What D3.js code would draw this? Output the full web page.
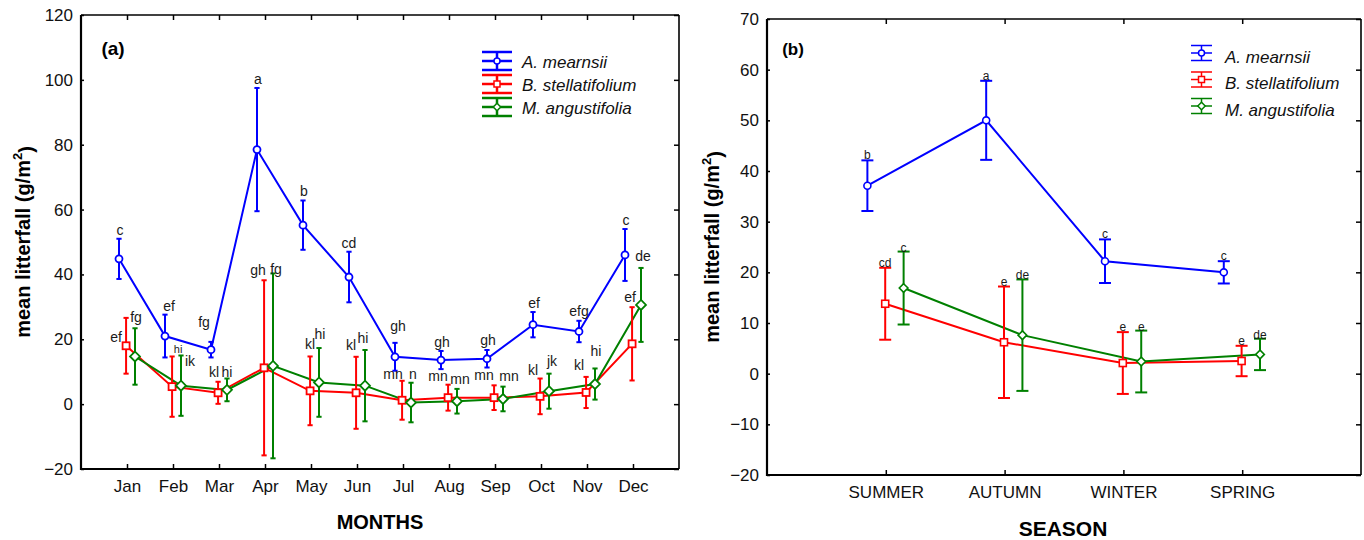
<!DOCTYPE html>
<html><head><meta charset="utf-8">
<script src="https://cdn.jsdelivr.net/npm/d3@7"></script>
<style>
body{margin:0;background:#fff}
svg{display:block}
text{font-family:Arial,"Liberation Sans",sans-serif}
</style>
</head><body>
<svg id="chart" width="1364" height="540"></svg>
<script>
// ---------- DATA ----------
const months = ["Jan","Feb","Mar","Apr","May","Jun","Jul","Aug","Sep","Oct","Nov","Dec"];
const seriesNames = ["A. mearnsii","B. stellatifolium","M. angustifolia"];
const monthYTicks = [-20,0,20,40,60,80,100,120];
const seasonYTicks = [-20,-10,0,10,20,30,40,50,60,70];

// monthly means and error half-widths
const mearnsiiMonth    = [44.8, 21.0, 16.8, 78.5, 55.2, 39.2, 14.6, 13.6, 14.0, 24.5, 22.4, 46.0];
const mearnsiiMonthErr = [ 6.2,  6.6,  2.4, 19.0,  7.6,  7.8,  4.3,  2.8,  2.7,  3.9,  3.3,  8.0];
const stellMonth       = [18.0,  5.4,  3.5, 11.2,  4.1,  3.5,  1.2,  2.0,  2.0,  2.4,  3.6, 18.6];
const stellMonthErr    = [ 8.6,  9.3,  3.4, 27.0, 10.6, 11.1,  6.0,  4.0,  3.8,  5.5,  4.8, 11.3];
const angusMonth       = [14.7,  5.7,  4.4, 11.8,  6.7,  5.7,  0.5,  0.9,  1.6,  4.0,  6.2, 30.6];
const angusMonthErr    = [ 8.7,  9.3,  3.5, 28.5, 10.6, 11.0,  6.1,  3.8,  3.8,  5.4,  4.8, 11.4];

const mearnsiiMonthLet = ["c","ef","fg","a","b","cd","gh","gh","gh","ef","efg","c"];
const stellMonthLet    = ["ef","hi","kl","gh","kl","kl","mn","mn","mn","kl","kl","ef"];
const angusMonthLet    = ["fg","ik","hi","fg","hi","hi","n","mn","mn","jk","hi","de"];

const seasons = ["SUMMER","AUTUMN","WINTER","SPRING"];
const mearnsiiSeason    = [37.1, 50.0, 22.2, 20.0];
const mearnsiiSeasonErr = [ 5.0,  7.8,  4.3,  2.2];
const stellSeason       = [13.8,  6.2,  2.1,  2.5];
const stellSeasonErr    = [ 7.1, 11.0,  6.1,  3.0];
const angusSeason       = [16.9,  7.6,  2.4,  3.8];
const angusSeasonErr    = [ 7.2, 11.0,  6.1,  3.1];

const mearnsiiSeasonLet = ["b","a","c","c"];
const stellSeasonLet    = ["cd","e","e","e"];
const angusSeasonLet    = ["c","de","e","de"];

// ---------- LAYOUT (label nudges in px, relative to top of error bar) ----------
const mearnsiiMonthNudge = [[1,-9],[4,-9],[-7,-20],[1,-9],[1,-9],[0,-9],[3,-17],[1,-9],[1,-10],[1,-9],[0,-10],[1,-9]];
const stellMonthNudge    = [[-10,19],[6,-7],[-4,-10],[-6,-10],[0,-12],[-5,-12],[-9,-7],[-10,-9],[-10,-10],[-7,-9],[-7,-12],[-2,-10]];
const angusMonthNudge    = [[1,-11],[9,5],[0,-7],[3,-4],[1,-14],[-2,-12],[2,-9],[3,-10],[6,-11],[3,-13],[1,-17],[2,-12]];
const seasonNudge = [[0,-5],[0,-5],[0,-4]];

const colors = ["#0000ff","#ff0000","#008000"];
const markers = ["circle","square","diamond"];

const svg = d3.select("#chart");

function drawMarker(g, type, cx, cy, s, color, sw){
  if(type==="circle"){
    g.append("circle").attr("cx",cx).attr("cy",cy).attr("r",s*0.5)
      .attr("fill","#fff").attr("stroke",color).attr("stroke-width",sw);
  } else if(type==="square"){
    g.append("rect").attr("x",cx-s/2).attr("y",cy-s/2).attr("width",s).attr("height",s)
      .attr("fill","#fff").attr("stroke",color).attr("stroke-width",sw);
  } else {
    const h=s*0.62;
    g.append("path").attr("d",`M${cx},${cy-h}L${cx+h},${cy}L${cx},${cy+h}L${cx-h},${cy}Z`)
      .attr("fill","#fff").attr("stroke",color).attr("stroke-width",sw);
  }
}

function drawPanel(p){
  const n = p.cats.length;
  const x = d3.scaleLinear().domain([0,n+1]).range([p.left,p.right]);
  const y = d3.scaleLinear().domain(p.yDomain).range([p.bottom,p.top]);
  const g = svg.append("g");
  const idx = d3.range(1,n+1);

  // axes
  const styleAxis = sel => {
    sel.select(".domain").remove();
    sel.selectAll(".tick line").attr("stroke","#000").attr("stroke-width",1.5);
    sel.selectAll(".tick text").attr("fill","#111").style("font-size",p.tickFont+"px");
  };
  g.append("g").attr("transform",`translate(${p.left},0)`)
    .call(d3.axisLeft(y).tickValues(p.yTicks).tickSize(-3).tickPadding(p.yPad)).call(styleAxis);
  g.append("g").attr("transform",`translate(${p.right},0)`)
    .call(d3.axisRight(y).tickValues(p.yTicks).tickSize(-5).tickFormat("")).call(styleAxis);
  g.append("g").attr("transform",`translate(0,${p.bottom})`)
    .call(d3.axisBottom(x).tickValues(idx).tickSize(-5).tickPadding(p.xPad).tickFormat(i=>p.cats[i-1])).call(styleAxis);
  g.append("g").attr("transform",`translate(0,${p.top})`)
    .call(d3.axisTop(x).tickValues(idx).tickSize(-5).tickFormat("")).call(styleAxis);

  // frame
  g.append("line").attr("x1",p.left).attr("x2",p.right).attr("y1",p.top).attr("y2",p.top).attr("stroke","#000").attr("stroke-width",1.6);
  g.append("line").attr("x1",p.right).attr("x2",p.right).attr("y1",p.top).attr("y2",p.bottom).attr("stroke","#000").attr("stroke-width",1.6);
  g.append("line").attr("x1",p.left).attr("x2",p.right).attr("y1",p.bottom).attr("y2",p.bottom).attr("stroke","#000").attr("stroke-width",2.2);
  g.append("line").attr("x1",p.left).attr("x2",p.left).attr("y1",p.top).attr("y2",p.bottom+1).attr("stroke","#000").attr("stroke-width",2.2);

  // series
  p.series.forEach((s,k)=>{
    const off = p.offsets[k];
    const col = colors[k];
    const line = d3.line().x((d,i)=>x(i+1+off)).y(d=>y(d));
    g.append("path").datum(s.mean).attr("d",line).attr("fill","none").attr("stroke",col).attr("stroke-width",p.lineW);
  });
  p.series.forEach((s,k)=>{
    const off = p.offsets[k];
    const col = colors[k];
    s.mean.forEach((m,i)=>{
      const cx = x(i+1+off), yt = y(m+s.err[i]), yb = y(m-s.err[i]);
      g.append("line").attr("x1",cx).attr("x2",cx).attr("y1",yt).attr("y2",yb).attr("stroke",col).attr("stroke-width",p.barW);
      [yt,yb].forEach(yy=>g.append("line").attr("x1",cx-p.cap).attr("x2",cx+p.cap).attr("y1",yy).attr("y2",yy).attr("stroke",col).attr("stroke-width",p.barW));
    });
  });
  p.series.forEach((s,k)=>{
    const off = p.offsets[k];
    s.mean.forEach((m,i)=>drawMarker(g,markers[k],x(i+1+off),y(m),p.mk[k],colors[k],p.mkW));
  });
  // letters
  p.series.forEach((s,k)=>{
    const off = p.offsets[k];
    s.mean.forEach((m,i)=>{
      const nd = s.nudge[i];
      g.append("text").attr("x",x(i+1+off)+nd[0]).attr("y",y(m+s.err[i])+nd[1])
        .attr("text-anchor","middle").attr("dominant-baseline","central")
        .attr("fill","#1a1a1a").style("font-size",((s.letterSize&&s.letterSize[i])||p.letFont)+"px")
        .text(s.letters[i]);
    });
  });

  // legend
  seriesNames.forEach((name,k)=>{
    const cy = p.legY + k*p.legGap, col = colors[k];
    const lg = g.append("g");
    [cy-p.legCap, cy, cy+p.legCap].forEach(yy=>lg.append("line").attr("x1",p.legX0).attr("x2",p.legX1).attr("y1",yy).attr("y2",yy).attr("stroke",col).attr("stroke-width",p.legW));
    const mx=(p.legX0+p.legX1)/2;
    lg.append("line").attr("x1",mx).attr("x2",mx).attr("y1",cy-p.legCap).attr("y2",cy+p.legCap).attr("stroke",col).attr("stroke-width",p.legW);
    drawMarker(lg,markers[k],mx,cy,p.legMk,col,1.5);
    lg.append("text").attr("x",p.legText).attr("y",cy+p.legTextDy).attr("dominant-baseline","central")
      .style("font-size",p.legFont+"px").style("font-style","italic").attr("fill","#111").text(name);
  });

  // tag
  g.append("text").attr("x",p.tagX).attr("y",p.tagY).attr("text-anchor","middle").attr("dominant-baseline","central")
    .style("font-size",p.tagFont+"px").style("font-weight","bold").text(p.tag);

  // titles
  g.append("text").attr("x",(p.left+p.right)/2+p.xTitleDx).attr("y",p.xTitleY).attr("text-anchor","middle").attr("dominant-baseline","central")
    .style("font-size",p.xTitleFont+"px").style("font-weight","bold").text(p.xTitle);
  const yt = g.append("text").attr("transform",`translate(${p.yTitleX},${(p.top+p.bottom)/2}) rotate(-90)`)
    .attr("text-anchor","middle").attr("dominant-baseline","central")
    .style("font-size",p.titleFont+"px").style("font-weight","bold");
  yt.append("tspan").text("mean litterfall (g/m");
  yt.append("tspan").attr("dy","-0.45em").style("font-size",(p.titleFont*0.65)+"px").text("2");
  yt.append("tspan").attr("dy","0.45em").text(")");
}

drawPanel({
  cats: months, left:81, right:679, top:15, bottom:469, yDomain:[-20,120], yTicks: monthYTicks,
  offsets:[-0.174,-0.02,0.174], cap:2.6, lineW:2, barW:2, mk:[7,7,8], mkW:1.8,
  tickFont:17, yPad:8, xPad:11, letFont:14,
  series:[
    {mean:mearnsiiMonth, err:mearnsiiMonthErr, letters:mearnsiiMonthLet, nudge:mearnsiiMonthNudge},
    {mean:stellMonth, err:stellMonthErr, letters:stellMonthLet, nudge:stellMonthNudge, letterSize:[null,11]},
    {mean:angusMonth, err:angusMonthErr, letters:angusMonthLet, nudge:angusMonthNudge}
  ],
  legX0:482, legX1:512, legY:61, legGap:23, legCap:9, legW:2.5, legMk:6, legText:522, legTextDy:1, legFont:17,
  tag:"(a)", tagX:113, tagY:48, tagFont:19,
  xTitle:"MONTHS", xTitleDx:0, xTitleY:522, yTitleX:23, titleFont:20, xTitleFont:20
});

drawPanel({
  cats: seasons, left:767, right:1361, top:19, bottom:475, yDomain:[-20,70], yTicks: seasonYTicks,
  offsets:[-0.155,-0.005,0.15], cap:6, lineW:2, barW:2, mk:[7,7,7], mkW:1.6,
  tickFont:17, yPad:8, xPad:11, letFont:12,
  series:[
    {mean:mearnsiiSeason, err:mearnsiiSeasonErr, letters:mearnsiiSeasonLet, nudge:mearnsiiSeason.map(()=>seasonNudge[0])},
    {mean:stellSeason, err:stellSeasonErr, letters:stellSeasonLet, nudge:stellSeason.map(()=>seasonNudge[1])},
    {mean:angusSeason, err:angusSeasonErr, letters:angusSeasonLet, nudge:angusSeason.map(()=>seasonNudge[2])}
  ],
  legX0:1191, legX1:1212, legY:53, legGap:26.5, legCap:7.5, legW:1.5, legMk:6, legText:1225, legTextDy:4, legFont:17,
  tag:"(b)", tagX:793, tagY:49, tagFont:17,
  xTitle:"SEASON", xTitleDx:-1, xTitleY:528, yTitleX:712, titleFont:20, xTitleFont:21
});
</script>
</body></html>
